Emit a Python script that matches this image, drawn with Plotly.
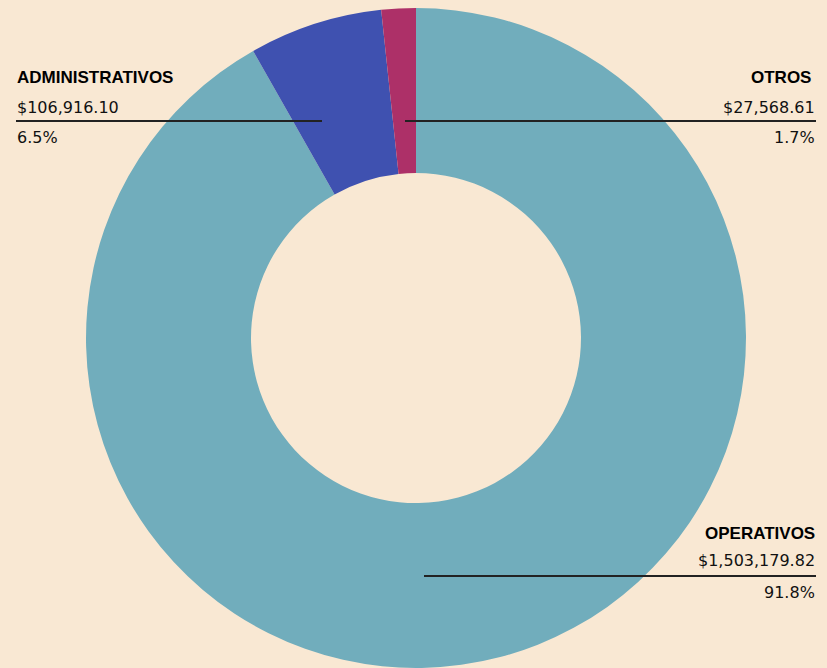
import plotly.graph_objects as go

categories = ["OPERATIVOS", "ADMINISTRATIVOS", "OTROS"]
values = [1503179.82, 106916.10, 27568.61]
colors = ["#71ADBC", "#3F51B0", "#AD3068"]
value_labels = ["$1,503,179.82", "$106,916.10", "$27,568.61"]
pct_labels = ["91.8%", "6.5%", "1.7%"]

W, H = 827, 668
BG = "#F9E8D3"

fig = go.Figure(go.Pie(
    labels=categories, values=values, hole=0.5, sort=False,
    direction="clockwise", rotation=0,
    marker=dict(colors=colors, line=dict(width=0)),
    textinfo="none", hoverinfo="label+value+percent",
    domain=dict(x=[85 / W, 747 / W], y=[0, 0.988]),
    showlegend=False,
))

def px(x):
    return x / W

def py(y):
    return 1 - y / H

# label layout: (index, title x px, value x px, anchor, title y, value y, pct y, line x0, line x1, line y)
layout_spec = [
    (1, 16, 16, "left", 77, 107.5, 137.5, 16, 322, 121),
    (2, 812, 816, "right", 77, 107.5, 137.5, 405, 816, 121),
    (0, 816, 816, "right", 533, 560, 592.5, 424, 816, 576),
]

annotations = []
shapes = []
for i, tx, vx, anc, ty, vy, pyy, lx0, lx1, ly in layout_spec:
    annotations.append(dict(x=px(tx), y=py(ty), xref="paper", yref="paper",
                            text="<b>" + categories[i] + "</b>", showarrow=False,
                            xanchor=anc, yanchor="middle", borderpad=0,
                            font=dict(family="Arial, Liberation Sans", size=17, color="#000000")))
    annotations.append(dict(x=px(vx), y=py(vy), xref="paper", yref="paper",
                            text=value_labels[i], showarrow=False,
                            xanchor=anc, yanchor="middle", borderpad=0,
                            font=dict(family="Verdana, DejaVu Sans", size=16, color="#111111")))
    annotations.append(dict(x=px(vx), y=py(pyy), xref="paper", yref="paper",
                            text=pct_labels[i], showarrow=False,
                            xanchor=anc, yanchor="middle", borderpad=0,
                            font=dict(family="Verdana, DejaVu Sans", size=16, color="#111111")))
    shapes.append(dict(type="line", xref="paper", yref="paper",
                       x0=px(lx0), x1=px(lx1), y0=py(ly), y1=py(ly),
                       line=dict(color="#222222", width=2)))

fig.update_layout(
    width=W, height=H,
    margin=dict(l=0, r=0, t=0, b=0),
    paper_bgcolor=BG, plot_bgcolor=BG,
    annotations=annotations, shapes=shapes,
)

fig.write_html("out.html", config={"displayModeBar": False},
               post_script="document.body.style.margin='0';document.body.style.overflow='hidden';")
